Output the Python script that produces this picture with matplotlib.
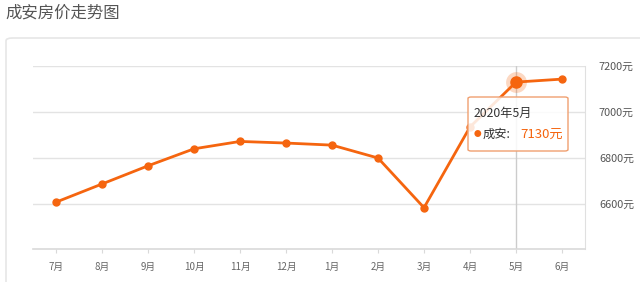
import matplotlib
matplotlib.use("Agg")
import matplotlib.pyplot as plt
from matplotlib.patches import FancyBboxPatch

plt.rcParams["font.family"] = ["Noto Sans CJK SC", "DejaVu Sans"]

months = ["7月", "8月", "9月", "10月", "11月", "12月", "1月", "2月", "3月", "4月", "5月", "6月"]
prices = [6608, 6687, 6766, 6840, 6872, 6865, 6856, 6800, 6584, 6935, 7130, 7143]
y_ticks = [6600, 6800, 7000, 7200]
highlight = 10  # 5月, tooltip point

W, H = 640, 282
fig = plt.figure(figsize=(W / 100, H / 100), dpi=100)

# card background
card = FancyBboxPatch((6 / W, -0.1), 1.2, (282 - 38) / H + 0.1,
                      boxstyle="round,pad=0,rounding_size=0.01",
                      transform=fig.transFigure, facecolor="white",
                      edgecolor="#e6e6e6", linewidth=1.2, zorder=-1)
fig.patches.append(card)

fig.text(5 / W, 1 - 13 / H, "成安房价走势图", fontsize=11.8, color="#555555",
         va="center", ha="left")

left, right, top, bottom = 33, 585, 66, 249
ax = fig.add_axes([left / W, 1 - bottom / H, (right - left) / W, (bottom - top) / H])
ax.set_zorder(2)
ax.patch.set_visible(False)
px = 0.23  # pixels per unit
ax.set_ylim(6600 - (bottom - 204) / px, 7200)
ax.set_xlim(-0.5, len(months) - 0.5)

for s in ["top", "left"]:
    ax.spines[s].set_visible(False)
ax.spines["right"].set_color("#e0e0e0")
ax.spines["bottom"].set_color("#d9d9d9")
ax.spines["bottom"].set_linewidth(1.2)

ax.yaxis.tick_right()
ax.set_yticks(y_ticks)
ax.set_yticklabels([f"{v}元" for v in y_ticks], fontsize=7.8, color="#555555")
ax.tick_params(axis="y", length=0, pad=10)
ax.set_xticks(range(len(months)))
ax.set_xticklabels(months, fontsize=7, color="#666666")
ax.tick_params(axis="x", length=3, color="#d9d9d9", pad=6)
ax.grid(axis="y", color="#e3e3e3", linewidth=1)
ax.set_axisbelow(True)

ax.axvline(highlight, color="#cccccc", linewidth=1, zorder=1)

orange = "#f5650f"
ax.plot(range(len(months)), prices, color=orange, linewidth=2.0, marker="o",
        markersize=5, zorder=3, clip_on=False)
ax.plot(highlight, prices[highlight], "o", color=orange, markersize=15, alpha=0.25,
        zorder=4, clip_on=False, markeredgewidth=0)
ax.plot(highlight, prices[highlight], "o", color=orange, markersize=8, zorder=5,
        clip_on=False)

# tooltip
tx, ty, tw, th = 468, 97, 100, 54
tip = FancyBboxPatch((tx / W, 1 - (ty + th) / H), tw / W, th / H,
                     boxstyle="round,pad=0,rounding_size=0.005",
                     transform=fig.transFigure, facecolor=(1, 1, 1, 0.85),
                     edgecolor="#f0a070", linewidth=1, zorder=10)
fig.patches.append(tip)
fig.text((tx + 6) / W, 1 - (ty + 16) / H, "2020年5月", fontsize=8.8, color="#333333",
         va="center", zorder=11)
fig.text((tx + 6) / W, 1 - (ty + 37) / H, "●", fontsize=5.5, color=orange,
         va="center", zorder=11)
fig.text((tx + 15) / W, 1 - (ty + 37) / H, "成安:", fontsize=8.8, color="#333333",
         va="center", zorder=11)
fig.text((tx + 52) / W, 1 - (ty + 37) / H, f"{prices[highlight]}元", fontsize=9.5,
         color=orange, va="center", zorder=11)

fig.savefig("out.png", dpi=100)
